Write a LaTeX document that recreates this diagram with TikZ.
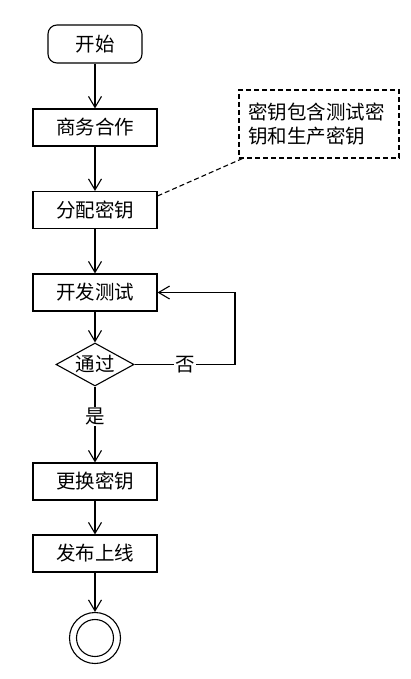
\documentclass[tikz,border=0pt]{standalone}
\usepackage{fontspec}
\newfontfamily\cjk{Noto Sans CJK SC}
\usetikzlibrary{shapes.geometric,arrows.meta}
\begin{document}
\begin{tikzpicture}[x=1pt,y=-1pt,
  every node/.style={font=\cjk\fontsize{19.5}{24}\selectfont},
  ln/.style={line width=1.1pt},
  arr/.style={ln,-{Straight Barb[length=11pt,width=13pt,line width=1.1pt]}},
  procbox/.style={draw,ln,rectangle,minimum width=124pt,minimum height=37pt,inner sep=0pt},
  startbox/.style={draw,ln,rectangle,rounded corners=9pt,minimum width=94pt,minimum height=38pt,inner sep=0pt},
  decbox/.style={draw,ln,diamond,aspect=1.8,minimum width=78pt,minimum height=43pt,inner sep=0pt},
  notebox/.style={draw,ln,dash pattern=on 5pt off 3pt,rectangle,minimum width=160pt,minimum height=68pt,align=left,inner sep=0pt,text width=142pt},
  lbl/.style={fill=white,inner sep=1pt}
]
\useasboundingbox (0,0) rectangle (410,679);
\node[startbox] (start) at (95,44) {开始};
\node[procbox] (sw) at (95,127.5) {商务合作};
\node[procbox] (fp) at (95,210) {分配密钥};
\node[procbox] (kf) at (95,292.5) {开发测试};
\node[decbox] (tg) at (95,364.5) {通过};
\node[procbox] (gh) at (95,481.5) {更换密钥};
\node[procbox] (fb) at (95,553.5) {发布上线};
\node[draw,ln,circle,minimum size=51pt,inner sep=0pt] (end) at (95,638) {};
\node[draw,ln,circle,minimum size=37pt,inner sep=0pt] (endin) at (end) {};
\node[notebox] (note) at (319,124) {密钥包含测试密\\钥和生产密钥};
\coordinate (loopc) at (235,364.5);

\draw[arr] (start) -- (sw);
\draw[arr] (sw) -- (fp);
\draw[arr] (fp) -- (kf);
\draw[arr] (kf) -- (tg);
\draw[arr] (tg) -- node[lbl,pos=0.4]{是} (gh);
\draw[arr] (gh) -- (fb);
\draw[arr] (fb) -- (end);
\draw[arr] (tg.east) -- node[lbl,pos=0.5]{否} (loopc) |- (kf.east);
\draw[ln,dash pattern=on 5pt off 3pt] ([yshift=-5pt]fp.north east) -- ([xshift=4pt]note.south west);
\end{tikzpicture}
\end{document}
